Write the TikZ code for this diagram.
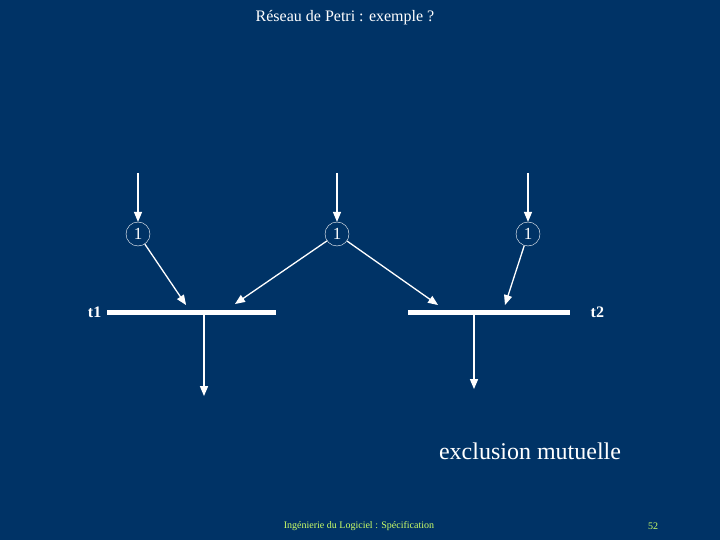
\documentclass[tikz,border=0pt]{standalone}
\usepackage{fontspec}
\setmainfont{Liberation Serif}
\usetikzlibrary{arrows,positioning}

\definecolor{slidebg}{RGB}{0,51,102}
\definecolor{footcol}{RGB}{204,255,102}

\begin{document}
\begin{tikzpicture}[x=1pt,y=-1pt,
  place/.style={draw=white,circle,thin,minimum size=24pt,inner sep=0pt,text=white,font=\fontsize{17}{17}\selectfont},
  bar/.style={fill=white,inner sep=0pt,minimum height=5pt},
  arc/.style={white,line width=1.3pt,-triangle 45}]
\fill[slidebg] (0,0) rectangle (720,540);
\useasboundingbox (0,0) rectangle (720,540);

\node[white,font=\fontsize{16}{16}\selectfont] (title) at (345,18) {Réseau de Petri : exemple ?};

\node[place] (p1) at (138,234) {1};
\node[place] (p2) at (337,234) {1};
\node[place] (p3) at (528,234) {1};

\coordinate (s1) at (138,173);
\coordinate (s2) at (337,173);
\coordinate (s3) at (528,173);

\node[bar,minimum width=169pt] (t1) at (191.5,312) {};
\node[bar,minimum width=162pt] (t2) at (489,312) {};
\node[white,font=\bfseries\fontsize{16}{16}\selectfont,left=2pt of t1] (l1) {t1};
\node[white,font=\bfseries\fontsize{16}{16}\selectfont,right=17pt of t2] (l2) {t2};

\coordinate (a) at (186,305);
\coordinate (B) at (235,304);
\coordinate (C) at (438,305);
\coordinate (D) at (505,305);
\coordinate (o1) at (204,396);
\coordinate (o2) at (474,389);

\draw[arc] (s1)--(p1);
\draw[arc] (s2)--(p2);
\draw[arc] (s3)--(p3);

\draw[arc] (p1)--(a);
\draw[arc] (p2)--(B);
\draw[arc] (p2)--(C);
\draw[arc] (p3)--(D);

\draw[arc] (t1.south -| o1)--(o1);
\draw[arc] (t2.south -| o2)--(o2);

\node[white,font=\fontsize{24}{24}\selectfont] (excl) at (530,451) {exclusion mutuelle};
\node[footcol,font=\fontsize{10}{10}\selectfont] (foot) at (359,526) {Ingénierie du Logiciel : Spécification};
\node[footcol,font=\fontsize{10}{10}\selectfont] (num) at (653,526) {52};

\end{tikzpicture}
\end{document}
